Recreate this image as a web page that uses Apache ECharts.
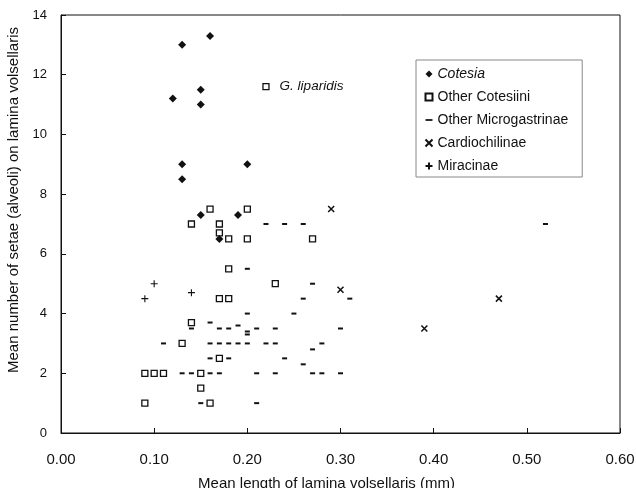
<!DOCTYPE html>
<html>
<head>
<meta charset="utf-8">
<script src="https://cdn.jsdelivr.net/npm/echarts@6/dist/echarts.min.js"></script>
<style>
html,body{margin:0;padding:0;background:#fff;}
#chart{width:636px;height:488px;}
</style>
</head>
<body>
<div id="chart"></div>
<script>
const seriesNames = ['Cotesia', 'Other Cotesiini', 'Other Microgastrinae', 'Cardiochilinae', 'Miracinae'];
const cotesia = [[0.16,13.3],[0.13,13.0],[0.15,11.5],[0.12,11.2],[0.15,11.0],[0.13,9.0],[0.20,9.0],[0.13,8.5],[0.15,7.3],[0.19,7.3],[0.17,6.5]];
const otherCotesiini = [[0.16,7.5],[0.20,7.5],[0.14,7.0],[0.17,7.0],[0.17,6.7],[0.18,6.5],[0.20,6.5],[0.27,6.5],[0.18,5.5],[0.23,5.0],[0.17,4.5],[0.18,4.5],[0.14,3.7],[0.13,3.0],[0.17,2.5],[0.09,2.0],[0.10,2.0],[0.11,2.0],[0.15,2.0],[0.15,1.5],[0.09,1.0],[0.16,1.0]];
const gLiparidis = [0.22, 11.6];
const gLiparidisLabel = 'G. liparidis';
const otherMicrogastrinae = [[0.22,7.0],[0.24,7.0],[0.26,7.0],[0.52,7.0],[0.20,5.5],[0.27,5.0],[0.26,4.5],[0.31,4.5],[0.20,4.0],[0.25,4.0],
  [0.16,3.7],[0.14,3.5],[0.17,3.5],[0.18,3.5],[0.19,3.6],[0.20,3.4],[0.20,3.3],[0.21,3.5],[0.23,3.5],[0.30,3.5],
  [0.11,3.0],[0.16,3.0],[0.17,3.0],[0.18,3.0],[0.19,3.0],[0.20,3.0],[0.22,3.0],[0.23,3.0],[0.28,3.0],[0.27,2.8],
  [0.16,2.5],[0.18,2.5],[0.24,2.5],[0.26,2.3],
  [0.13,2.0],[0.14,2.0],[0.15,2.0],[0.16,2.0],[0.17,2.0],[0.21,2.0],[0.23,2.0],[0.27,2.0],[0.28,2.0],[0.30,2.0],
  [0.15,1.0],[0.21,1.0]];
const cardiochilinae = [[0.29,7.5],[0.30,4.8],[0.39,3.5],[0.47,4.5]];
const miracinae = [[0.10,5.0],[0.09,4.5],[0.14,4.7]];
const xTicks = [0.00,0.10,0.20,0.30,0.40,0.50,0.60];
const yTicks = [0,2,4,6,8,10,12,14];
const xTitle = 'Mean length of lamina volsellaris (mm)';
const yTitle = 'Mean number of setae (alveoli) on lamina volsellaris';

const FONT = '"Liberation Sans", Arial, sans-serif';
const dashPath = 'path://M0,0H10V4H0Z';
const legendDashPath = 'path://M0,0H10V2.5H0Z';
const crossPath = 'path://M0,0L10,10M10,0L0,10';
const plusPath = 'path://M5,0L5,10M0,5L10,5';

const chart = echarts.init(document.getElementById('chart'), null, {renderer: 'canvas'});
chart.setOption({
  backgroundColor: '#fff',
  animation: false,
  textStyle: {fontFamily: FONT, color: '#111'},
  grid: {left: 61, right: 16, top: 15, bottom: 55, containLabel: false, outerBoundsMode: 'none',
    show: true, borderColor: '#111', borderWidth: 1, backgroundColor: 'transparent'},
  xAxis: {
    type: 'value', min: xTicks[0], max: xTicks[xTicks.length-1], interval: 0.1,
    name: xTitle, nameLocation: 'middle', nameGap: 43,
    nameTextStyle: {fontSize: 15, color: '#111', fontFamily: FONT, padding: [0, 28, 0, 0]},
    axisLine: {show: true, lineStyle: {color: '#111', width: 1}},
    axisTick: {show: true, inside: true, length: 5, lineStyle: {color: '#111'}},
    axisLabel: {fontSize: 15, color: '#111', margin: 19, formatter: v => v.toFixed(2), fontFamily: FONT},
    splitLine: {show: false}
  },
  yAxis: {
    type: 'value', min: yTicks[0], max: yTicks[yTicks.length-1], interval: 2,
    name: yTitle, nameLocation: 'middle', nameGap: 38, nameRotate: 90,
    nameTextStyle: {fontSize: 15, color: '#111', fontFamily: FONT, padding: [0, 0, 0, 48]},
    axisLine: {show: true, lineStyle: {color: '#111', width: 1}},
    axisTick: {show: true, inside: true, length: 5, lineStyle: {color: '#111'}},
    axisLabel: {fontSize: 13, color: '#111', margin: 14, fontFamily: FONT},
    splitLine: {show: false}
  },
  legend: {
    orient: 'vertical', left: 416, top: 60,
    padding: [7, 14, 4, 7],
    itemWidth: 7, itemHeight: 7, itemGap: 9,
    borderColor: '#888', borderWidth: 1, backgroundColor: '#fff',
    textStyle: {fontSize: 14, color: '#111', fontFamily: FONT, lineHeight: 14,
      rich: {i: {fontStyle: 'italic', fontSize: 14, fontFamily: FONT, color: '#111', lineHeight: 14}}},
    formatter: name => name === seriesNames[0] ? '{i|' + name + '}' : name,
    data: [
      {name: seriesNames[0], icon: 'diamond'},
      {name: seriesNames[1], icon: 'rect'},
      {name: seriesNames[2], icon: legendDashPath},
      {name: seriesNames[3], icon: crossPath},
      {name: seriesNames[4], icon: plusPath}
    ]
  },
  series: [
    {
      name: seriesNames[2], type: 'scatter', data: otherMicrogastrinae,
      symbol: dashPath, symbolSize: [5, 2], symbolKeepAspect: false,
      itemStyle: {color: '#111', opacity: 1}, z: 2
    },
    {
      name: seriesNames[1], type: 'scatter',
      data: otherCotesiini.concat([{value: gLiparidis, label: {show: true, formatter: gLiparidisLabel, position: 'right', distance: 10,
        fontStyle: 'italic', fontSize: 13.5, color: '#111', fontFamily: FONT}}]),
      symbol: 'rect', symbolSize: 6,
      itemStyle: {color: '#fff', borderColor: '#111', borderWidth: 1.3, opacity: 1}, z: 3
    },
    {
      name: seriesNames[0], type: 'scatter', data: cotesia,
      symbol: 'diamond', symbolSize: 8,
      itemStyle: {color: '#111', opacity: 1}, z: 4
    },
    {
      name: seriesNames[3], type: 'scatter', data: cardiochilinae,
      symbol: crossPath, symbolSize: 6,
      itemStyle: {color: 'none', borderColor: '#111', borderWidth: 1.5, opacity: 1}, z: 4
    },
    {
      name: seriesNames[4], type: 'scatter', data: miracinae,
      symbol: plusPath, symbolSize: 7,
      itemStyle: {color: 'none', borderColor: '#111', borderWidth: 1.1, opacity: 1}, z: 4
    }
  ]
});
</script>
</body>
</html>
